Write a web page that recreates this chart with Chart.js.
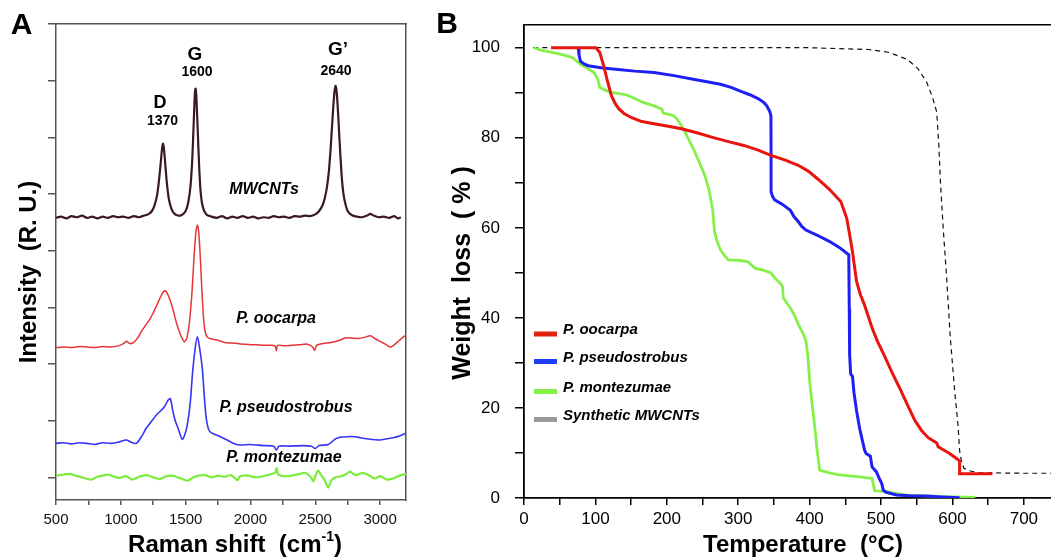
<!DOCTYPE html>
<html>
<head>
<meta charset="utf-8">
<script src="https://cdn.jsdelivr.net/npm/chart.js@4.4.1/dist/chart.umd.min.js"></script>
<style>
  body { margin: 0; background: #fff; overflow: hidden; }
  #wrapA { position: absolute; left: 0; top: 0; }
  #wrapB { position: absolute; left: 430px; top: 0; }
</style>
</head>
<body>
<div id="wrapA"><canvas id="ramanChart" width="430" height="558"></canvas></div>
<div id="wrapB"><canvas id="tgaChart" width="621" height="558"></canvas></div>
<script>
// ---- panel A : Raman spectra (offset intensities, arbitrary units) ----
const ramanTicks = [500, 750, 1000, 1250, 1500, 1750, 2000, 2250, 2500, 2750, 3000];
const offsetTicks = [0, 1, 2, 3, 4, 5, 6, 7, 8];

const mwcntShift = [500, 540, 580, 620, 660, 700, 740, 780, 820, 860, 900, 940, 980, 1020, 1060, 1100, 1140, 1180, 1210, 1240, 1260, 1280, 1295, 1308, 1318, 1325, 1332, 1342, 1355, 1370, 1390, 1410, 1440, 1470, 1500, 1520, 1538, 1552, 1563, 1572, 1577, 1583, 1593, 1605, 1618, 1635, 1660, 1700, 1740, 1780, 1820, 1860, 1900, 1940, 1980, 2020, 2060, 2100, 2140, 2180, 2220, 2260, 2300, 2340, 2380, 2420, 2460, 2500, 2530, 2560, 2585, 2605, 2620, 2635, 2648, 2657, 2666, 2678, 2692, 2708, 2725, 2750, 2780, 2820, 2860, 2900, 2925, 2950, 2990, 3030, 3070, 3110, 3140, 3160];
const mwcntInt = [4.58, 4.60, 4.57, 4.61, 4.59, 4.62, 4.58, 4.60, 4.57, 4.60, 4.58, 4.61, 4.59, 4.60, 4.58, 4.61, 4.59, 4.62, 4.64, 4.70, 4.80, 4.98, 5.25, 5.55, 5.80, 5.89, 5.82, 5.55, 5.20, 4.92, 4.74, 4.66, 4.62, 4.63, 4.70, 4.85, 5.15, 5.65, 6.30, 6.80, 6.86, 6.70, 6.15, 5.45, 4.98, 4.75, 4.64, 4.60, 4.58, 4.61, 4.57, 4.60, 4.58, 4.61, 4.58, 4.60, 4.57, 4.59, 4.58, 4.61, 4.59, 4.60, 4.58, 4.61, 4.60, 4.62, 4.61, 4.64, 4.70, 4.82, 5.05, 5.40, 5.85, 6.40, 6.80, 6.91, 6.78, 6.35, 5.75, 5.20, 4.90, 4.70, 4.63, 4.60, 4.59, 4.62, 4.65, 4.62, 4.59, 4.60, 4.58, 4.61, 4.57, 4.59];

const oocarpaShift = [500, 560, 620, 680, 740, 800, 860, 920, 980, 1020, 1045, 1070, 1100, 1130, 1160, 1190, 1220, 1250, 1280, 1310, 1335, 1350, 1375, 1400, 1430, 1460, 1490, 1510, 1530, 1550, 1565, 1580, 1591, 1602, 1615, 1630, 1645, 1665, 1700, 1750, 1800, 1850, 1900, 1950, 2000, 2050, 2100, 2150, 2190, 2200, 2210, 2260, 2320, 2380, 2440, 2480, 2495, 2510, 2560, 2620, 2680, 2730, 2780, 2830, 2880, 2925, 2960, 3000, 3040, 3080, 3120, 3160, 3200];
const oocarpaInt = [2.29, 2.30, 2.29, 2.31, 2.30, 2.29, 2.31, 2.30, 2.32, 2.36, 2.40, 2.36, 2.38, 2.46, 2.58, 2.68, 2.78, 2.90, 3.05, 3.20, 3.29, 3.28, 3.16, 2.98, 2.72, 2.52, 2.39, 2.46, 2.75, 3.30, 3.90, 4.35, 4.45, 4.30, 3.80, 3.10, 2.65, 2.48, 2.44, 2.42, 2.38, 2.37, 2.36, 2.35, 2.34, 2.34, 2.33, 2.33, 2.32, 2.24, 2.33, 2.32, 2.33, 2.34, 2.35, 2.30, 2.24, 2.33, 2.36, 2.38, 2.41, 2.46, 2.46, 2.45, 2.47, 2.50, 2.45, 2.40, 2.35, 2.30, 2.36, 2.44, 2.51];

const pseudoShift = [500, 560, 620, 680, 740, 800, 860, 920, 980, 1042, 1080, 1120, 1160, 1197, 1240, 1274, 1310, 1338, 1364, 1382, 1402, 1420, 1441, 1460, 1475, 1500, 1519, 1537, 1553, 1572, 1591, 1610, 1630, 1645, 1661, 1686, 1764, 1820, 1866, 1918, 2000, 2100, 2180, 2200, 2220, 2300, 2400, 2470, 2500, 2530, 2600, 2665, 2780, 2850, 2900, 3000, 3100, 3150, 3200];
const pseudoInt = [0.60, 0.61, 0.59, 0.61, 0.60, 0.58, 0.61, 0.60, 0.62, 0.66, 0.62, 0.60, 0.72, 0.87, 1.00, 1.10, 1.18, 1.25, 1.36, 1.39, 1.16, 1.00, 0.87, 0.74, 0.67, 0.80, 1.01, 1.35, 1.83, 2.25, 2.48, 2.25, 1.89, 1.40, 1.01, 0.81, 0.72, 0.66, 0.60, 0.57, 0.58, 0.56, 0.55, 0.48, 0.55, 0.55, 0.56, 0.55, 0.51, 0.56, 0.58, 0.69, 0.72, 0.70, 0.68, 0.66, 0.70, 0.73, 0.78];

const montezShift = [500, 560, 610, 650, 700, 770, 820, 860, 900, 950, 990, 1040, 1090, 1140, 1200, 1250, 1300, 1350, 1400, 1450, 1515, 1560, 1600, 1650, 1700, 1750, 1800, 1850, 1900, 1920, 1980, 2040, 2100, 2150, 2190, 2202, 2215, 2260, 2320, 2380, 2420, 2460, 2485, 2505, 2523, 2545, 2570, 2600, 2625, 2660, 2700, 2740, 2768, 2810, 2869, 2910, 2960, 3000, 3052, 3100, 3150, 3200];
const montezInt = [0.03, 0.05, 0.06, 0.03, 0.00, -0.04, 0.01, 0.03, 0.05, 0.01, -0.01, 0.02, -0.04, 0.01, 0.04, 0.00, -0.03, 0.02, 0.03, -0.01, -0.06, 0.00, 0.03, 0.04, 0.00, 0.03, 0.01, 0.04, -0.05, 0.02, 0.03, 0.00, 0.02, 0.05, 0.08, 0.16, 0.05, 0.02, 0.03, 0.06, 0.08, 0.02, -0.07, 0.05, 0.12, 0.04, -0.04, -0.18, -0.05, 0.00, 0.02, 0.06, 0.10, 0.04, 0.08, 0.04, -0.02, 0.02, -0.04, -0.02, 0.03, 0.06];

// ---- panel B : TGA curves ----
const tempTicks = [0, 50, 100, 150, 200, 250, 300, 350, 400, 450, 500, 550, 600, 650, 700];
const weightTicks = [0, 10, 20, 30, 40, 50, 60, 70, 80, 90, 100];

const ooTemp = [38, 100.6, 106, 111.6, 117, 122.5, 128, 133, 140, 150, 165, 182, 200, 220.6, 242, 264, 285, 307.7, 327, 345.8, 365, 384, 398, 411, 428, 443.8, 452, 456, 460, 465.7, 471, 476.5, 487.4, 495, 503.8, 515, 525.5, 536, 547.4, 556.7, 566, 578, 580, 596, 608, 610, 610, 656];
const ooWeight = [100, 100, 99, 96, 92.5, 89.3, 87.5, 86.4, 85.4, 84.5, 83.6, 83.1, 82.6, 82, 81.1, 80.1, 79.2, 78.3, 77.3, 76.1, 75.1, 73.9, 72.6, 70.9, 68.5, 65.8, 62.1, 58.5, 54.7, 48.1, 45.2, 43, 37.8, 34.8, 31.9, 28.0, 24.6, 21, 17.2, 15.0, 13.4, 12.2, 11.4, 9.9, 8.5, 8.2, 5.4, 5.4];

const psTemp = [76, 77, 79, 84, 90, 110, 128, 155, 182, 210, 237, 258, 275, 290, 302, 317, 329, 336, 340, 344, 345.8, 346, 346, 348, 351, 362, 373, 378, 384, 389, 394.8, 410, 427.5, 442, 454.8, 455.5, 456, 457.5, 460, 462, 465.7, 470, 473.8, 477, 479, 485, 487.4, 493.6, 497, 501, 503, 506.5, 521.6, 540, 563.7, 585, 610];
const psWeight = [100, 98.5, 97, 96.4, 96, 95.5, 95.2, 94.8, 94.5, 93.8, 93, 92.4, 91.9, 91.2, 90.4, 89.5, 88.6, 87.8, 87.1, 85.9, 84.9, 76, 68, 67, 66.2, 65.2, 63.9, 62.5, 61.4, 60.3, 59.5, 58.4, 57, 55.6, 54, 42, 31.9, 27.5, 27, 23.5, 19.4, 15.5, 12.8, 10.6, 9.9, 9.3, 6.9, 5.8, 4.5, 3.2, 1.8, 1.3, 0.66, 0.5, 0.44, 0.25, 0.07];

const mzTemp = [13.6, 25, 41, 55, 68, 74, 79, 88, 98, 103.4, 106, 112, 122.5, 133, 144, 155, 166, 180, 193, 195, 203, 209.6, 215, 220.6, 228, 237, 245, 253, 259, 264, 266.8, 270, 275, 280, 286, 300, 313, 324, 335, 345.8, 351, 357, 362, 363, 368, 373, 379, 384, 390, 394.8, 397.5, 400, 403, 405.7, 408, 410, 414, 427.5, 440, 455, 470, 487.4, 489, 491, 509, 519, 536, 560, 591, 632];
const mzWeight = [100, 99.4, 98.9, 98.4, 97.8, 97, 96.3, 95.5, 94.5, 93, 91.2, 90.7, 90.1, 89.8, 89.5, 88.7, 87.9, 87.2, 86.4, 85.5, 85.2, 84.9, 84, 82.7, 80.5, 77.6, 74.8, 71.7, 68.5, 64.3, 59.2, 57.2, 55.1, 54, 52.9, 52.8, 52.5, 51, 50.6, 50, 48.9, 48, 47, 44.5, 43.3, 42.2, 40.5, 38.6, 36.8, 34.9, 31.6, 26, 21.5, 17.9, 14.5, 11.3, 6.2, 5.6, 5.2, 4.9, 4.7, 4.35, 3.2, 1.6, 1.4, 1.1, 0.66, 0.45, 0.3, 0.15];

const synTemp = [13, 100, 200, 300, 400, 482, 510, 537, 552, 564, 572, 578, 581, 583.4, 587, 591.6, 597, 603, 608, 610, 612.3, 616, 625, 638, 700, 738];
const synWeight = [100, 100, 100, 100, 100, 99.6, 99, 97.4, 95.3, 92.3, 89, 85.7, 78, 69.5, 60, 49.6, 35.6, 24, 15.7, 10.5, 8.4, 6.6, 6.0, 5.6, 5.5, 5.5];

const sampleNames = ['P. oocarpa', 'P. pseudostrobus', 'P. montezumae', 'Synthetic MWCNTs'];

Chart.defaults.font.family = '"Liberation Sans", Arial, Helvetica, sans-serif';
Chart.defaults.color = '#000';

function pts(xs, ys) {
  return xs.map((x, i) => ({ x: x, y: ys[i] }));
}

// free text: panel letters, peak labels, axis titles
const textPlugin = {
  id: 'panelText',
  afterDraw(chart, args, opts) {
    const ctx = chart.ctx;
    (opts.items || []).forEach(it => {
      ctx.save();
      ctx.fillStyle = it.color || '#000';
      ctx.textBaseline = 'middle';
      ctx.translate(it.x, it.y);
      if (it.rot) ctx.rotate(it.rot);
      ctx.font = it.font;
      if (it.sup) {
        const w1 = ctx.measureText(it.text).width;
        const w3 = ctx.measureText(it.tail).width;
        ctx.font = it.supFont;
        const w2 = ctx.measureText(it.sup).width;
        let x0 = -(w1 + w2 + w3) / 2;
        ctx.textAlign = 'left';
        ctx.font = it.font;
        ctx.fillText(it.text, x0, 0);
        ctx.font = it.supFont;
        ctx.fillText(it.sup, x0 + w1, -8);
        ctx.font = it.font;
        ctx.fillText(it.tail, x0 + w1 + w2, 0);
      } else {
        ctx.textAlign = it.align || 'center';
        ctx.fillText(it.text, 0, 0);
      }
      ctx.restore();
    });
  }
};

// legend drawn inside the plot of panel B
const innerLegend = {
  id: 'innerLegend',
  afterDraw(chart, args, opts) {
    const ctx = chart.ctx;
    chart.data.datasets.forEach((ds, i) => {
      const y = opts.rows[i];
      ctx.save();
      ctx.fillStyle = ds.legendColor;
      ctx.fillRect(opts.swatchX, y - 2.5, opts.swatchW, 5);
      ctx.fillStyle = '#000';
      ctx.font = 'italic bold 15px "Liberation Sans", Arial, sans-serif';
      ctx.textAlign = 'left';
      ctx.textBaseline = 'middle';
      ctx.fillText(ds.label, opts.textX, y - 4);
      ctx.restore();
    });
  }
};

const bold = s => 'bold ' + s + 'px "Liberation Sans", Arial, sans-serif';
const boldIt = s => 'italic bold ' + s + 'px "Liberation Sans", Arial, sans-serif';

new Chart(document.getElementById('ramanChart'), {
  type: 'line',
  data: {
    datasets: [
      { label: 'MWCNTs', data: pts(mwcntShift, mwcntInt), borderColor: '#3a1a1e', borderWidth: 2.2 },
      { label: 'P. oocarpa', data: pts(oocarpaShift, oocarpaInt), borderColor: '#e53535', borderWidth: 1.5 },
      { label: 'P. pseudostrobus', data: pts(pseudoShift, pseudoInt), borderColor: '#3535f5', borderWidth: 1.6 },
      { label: 'P. montezumae', data: pts(montezShift, montezInt), borderColor: '#7cec3c', borderWidth: 2.2 }
    ]
  },
  options: {
    responsive: false,
    animation: false,
    elements: { point: { radius: 0 }, line: { tension: 0.25 } },
    layout: { autoPadding: false, padding: { left: 0, top: 24, right: 24, bottom: 0 } },
    scales: {
      x: {
        type: 'linear', min: 500, max: 3200,
        afterBuildTicks: s => { s.ticks = ramanTicks.map(v => ({ value: v })); },
        afterFit: s => { s.height = 58; },
        border: { color: '#555', width: 1.5 },
        grid: { drawOnChartArea: false, tickLength: 5, color: '#555', lineWidth: 1.5 },
        ticks: { autoSkip: false, maxRotation: 0, padding: 6, color: '#111', font: { size: 15 },
          callback: v => (v % 500 === 0 ? v : '') }
      },
      y: {
        type: 'linear', min: -0.4, max: 8,
        afterBuildTicks: s => { s.ticks = offsetTicks.map(v => ({ value: v })); },
        afterFit: s => { s.width = 56; },
        border: { color: '#555', width: 1.5 },
        grid: { drawOnChartArea: false, tickLength: 8, color: '#555', lineWidth: 1.5 },
        ticks: { display: false }
      },
      x2: {
        type: 'linear', position: 'top', min: 500, max: 3200,
        afterFit: s => { s.height = 0; },
        border: { color: '#555', width: 1.5 },
        grid: { display: false }, ticks: { display: false }
      },
      y2: {
        type: 'linear', position: 'right', min: -0.4, max: 8,
        afterFit: s => { s.width = 0; },
        border: { color: '#555', width: 1.5 },
        grid: { display: false }, ticks: { display: false }
      }
    },
    plugins: {
      legend: { display: false },
      tooltip: { enabled: false },
      panelText: {
        items: [
          { text: 'A', x: 21.5, y: 26, font: bold(30) },
          { text: 'D', x: 160, y: 103, font: bold(18) },
          { text: '1370', x: 162.5, y: 121, font: bold(14) },
          { text: 'G', x: 195, y: 54.5, font: bold(19) },
          { text: '1600', x: 197, y: 72.5, font: bold(14) },
          { text: 'G\u2019', x: 338, y: 50, font: bold(19) },
          { text: '2640', x: 336, y: 71, font: bold(14) },
          { text: 'MWCNTs', x: 264, y: 190, font: boldIt(16) },
          { text: 'P. oocarpa', x: 276, y: 319, font: boldIt(16) },
          { text: 'P. pseudostrobus', x: 286, y: 408, font: boldIt(16) },
          { text: 'P. montezumae', x: 284, y: 458, font: boldIt(16) },
          { text: 'Raman shift  (cm', sup: '-1', tail: ')', x: 235, y: 545, font: bold(24), supFont: bold(14) },
          { text: 'Intensity  (R. U.)', x: 29, y: 272, rot: -Math.PI / 2, font: bold(24) }
        ]
      }
    }
  },
  plugins: [textPlugin]
});

new Chart(document.getElementById('tgaChart'), {
  type: 'line',
  data: {
    datasets: [
      { label: sampleNames[0], data: pts(ooTemp, ooWeight), borderColor: '#e8140f', legendColor: '#e0220c', borderWidth: 3 },
      { label: sampleNames[1], data: pts(psTemp, psWeight), borderColor: '#1f1ff5', legendColor: '#1f3ff5', borderWidth: 3 },
      { label: sampleNames[2], data: pts(mzTemp, mzWeight), borderColor: '#86f04a', legendColor: '#86f04a', borderWidth: 2.8 },
      { label: sampleNames[3], data: pts(synTemp, synWeight), borderColor: '#111', legendColor: '#999', borderWidth: 1.2, borderDash: [5, 4] }
    ]
  },
  options: {
    responsive: false,
    animation: false,
    elements: { point: { radius: 0 }, line: { tension: 0 } },
    layout: { autoPadding: false, padding: { left: 0, top: 22, right: 0, bottom: 0 } },
    scales: {
      x: {
        type: 'linear', min: 0, max: 738,
        afterBuildTicks: s => { s.ticks = tempTicks.map(v => ({ value: v })); },
        afterFit: s => { s.height = 60; },
        border: { color: '#000', width: 1.8 },
        grid: { drawOnChartArea: false, tickLength: 7, color: '#000', lineWidth: 1.5 },
        ticks: { autoSkip: false, maxRotation: 0, padding: 4, color: '#000', font: { size: 17 },
          callback: v => (v % 100 === 0 ? v : '') }
      },
      y: {
        type: 'linear', min: 0, max: 105,
        afterBuildTicks: s => { s.ticks = weightTicks.map(v => ({ value: v })); },
        afterFit: s => { s.width = 94; },
        border: { color: '#000', width: 1.8 },
        grid: { drawOnChartArea: false, tickLength: 9, color: '#000', lineWidth: 1.5 },
        ticks: { autoSkip: false, padding: 15, color: '#000', font: { size: 17 },
          callback: v => (v % 20 === 0 ? v : '') }
      },
      x2: {
        type: 'linear', position: 'top', min: 0, max: 738,
        afterFit: s => { s.height = 0; },
        border: { color: '#000', width: 1.5 },
        grid: { display: false }, ticks: { display: false }
      }
    },
    plugins: {
      legend: { display: false },
      tooltip: { enabled: false },
      innerLegend: { swatchX: 104, swatchW: 23, textX: 133, rows: [334, 361.5, 391.5, 419.5] },
      panelText: {
        items: [
          { text: 'B', x: 17, y: 25, font: bold(30) },
          { text: 'Temperature  (\u00B0C)', x: 373, y: 545, font: bold(24) },
          { text: 'Weight  loss  ( % )', x: 33, y: 273, rot: -Math.PI / 2, font: bold(25) }
        ]
      }
    }
  },
  plugins: [textPlugin, innerLegend]
});
</script>
</body>
</html>
